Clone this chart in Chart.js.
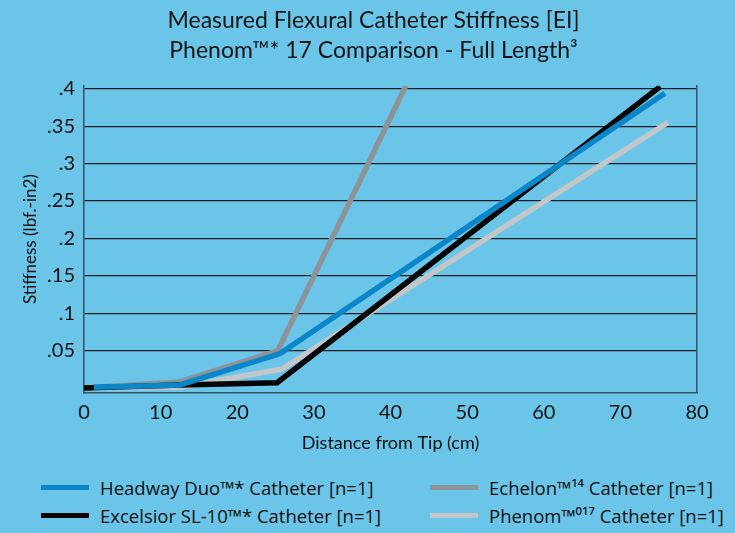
<!DOCTYPE html>
<html>
<head>
<meta charset="utf-8">
<script src="https://cdn.jsdelivr.net/npm/chart.js@4"></script>
<style>
  body { margin: 0; background: #6bc5e8; }
  #wrap { position: relative; width: 735px; height: 470px; }
  #legend { position: relative; width: 735px; height: 63px; font-family: "Liberation Sans Narrow", "Open Sans", sans-serif; font-size: 18.5px; color: #111; }
  .item { position: absolute; display: flex; align-items: center; white-space: nowrap; }
  .swatch { width: 48px; height: 5px; margin-right: 11px; }
</style>
</head>
<body>
<div id="wrap"><canvas id="myChart"></canvas></div>
<div id="legend"></div>
<script>
// Data
const seriesNames = [
    "Headway Duo™* Catheter [n=1]",
    "Echelon™¹⁴ Catheter [n=1]",
    "Excelsior SL-10™* Catheter [n=1]",
    "Phenom™⁰¹⁷ Catheter [n=1]"
];
const headwayDist = [1.3, 12.5, 25.6, 75.8];
const headwayEI   = [0.001, 0.004, 0.046, 0.394];
const echelonDist = [0, 12.5, 25.3, 42];
const echelonEI   = [0, 0.008, 0.050, 0.404];
const excelsiorDist = [0, 12.5, 25.2, 75.2];
const excelsiorEI   = [0, 0.004, 0.007, 0.403];
const phenomDist = [0, 12.5, 25.8, 76.2];
const phenomEI   = [0, 0.001, 0.025, 0.355];
const xTickStep = 10;
const yTickStep = 0.05;

const colors = ['#0a86c9', '#8d9499', '#050505', '#c3c7c9'];

function points(xs, ys) {
    return xs.map((x, i) => ({ x: x, y: ys[i] }));
}

const dark = '#161e22';

let ctx = document.getElementById('myChart').getContext('2d');
let chart = new Chart(ctx, {
    type: 'line',
    data: {
        datasets: [
            { label: seriesNames[0], data: points(headwayDist, headwayEI), borderColor: colors[0], order: 1 },
            { label: seriesNames[1], data: points(echelonDist, echelonEI), borderColor: colors[1], order: 3 },
            { label: seriesNames[2], data: points(excelsiorDist, excelsiorEI), borderColor: colors[2], order: 2 },
            { label: seriesNames[3], data: points(phenomDist, phenomEI), borderColor: colors[3], order: 4 }
        ]
    },
    options: {
        responsive: true,
        maintainAspectRatio: false,
        animation: false,
        elements: {
            line: { borderWidth: 5.5, tension: 0, borderCapStyle: 'butt', borderJoinStyle: 'miter' },
            point: { radius: 0 }
        },
        layout: { padding: { left: 20, right: 8, top: 0, bottom: 12 } },
        plugins: {
            legend: { display: false },
            tooltip: { enabled: false },
            title: {
                display: true,
                text: ['Measured Flexural Catheter Stiffness [EI]', 'Phenom™* 17 Comparison - Full Length³'],
                color: '#151515',
                font: { family: 'Lato', size: 23, weight: 'normal', lineHeight: 1.3 },
                padding: { top: 6, bottom: 20 }
            }
        },
        scales: {
            x: {
                type: 'linear',
                min: 0, max: 80,
                ticks: { stepSize: xTickStep, color: '#111', font: { family: 'Lato', size: 20 }, padding: 0 },
                grid: { display: false },
                border: { display: true, color: '#2f5566', width: 1.5 },
                title: { display: true, text: 'Distance from Tip (cm)', color: '#111', font: { family: 'Lato', size: 18 }, padding: { top: 8, bottom: 4 } }
            },
            y: {
                type: 'linear',
                min: -0.006, max: 0.404,
                ticks: {
                    stepSize: yTickStep,
                    includeBounds: false,
                    color: '#111',
                    font: { family: 'Lato', size: 20 },
                    padding: 9,
                    callback: v => v <= 0 ? '' : String(+v.toFixed(2)).replace(/^0/, '')
                },
                grid: {
                    drawTicks: false,
                    color: c => (c.tick && c.tick.value > 0) ? dark : 'rgba(0,0,0,0)',
                    lineWidth: 1.2
                },
                border: { display: true, color: '#2f5566', width: 1.5 },
                title: { display: true, text: 'Stiffness (lbf.-in2)', color: '#111', font: { family: 'Lato', size: 17 }, padding: 0 },
                afterFit: s => { s.width = 64; }
            },
            yRight: {
                type: 'linear',
                position: 'right',
                min: -0.006, max: 0.404,
                ticks: { display: false },
                grid: { display: false },
                border: { display: true, color: '#2f5566', width: 1.5 },
                afterFit: s => { s.width = 30; }
            }
        }
    }
});

// Build the two-column legend from the chart datasets
const legendPos = [[41, 5], [430, 5], [41, 33], [430, 33]];
const legendOrder = [0, 1, 2, 3];
let legend = document.getElementById('legend');
legendOrder.forEach((di, k) => {
    let ds = chart.data.datasets[di];
    let item = document.createElement('div');
    item.className = 'item';
    item.style.left = legendPos[k][0] + 'px';
    item.style.top = legendPos[k][1] + 'px';
    item.innerHTML = `<span class="swatch" style="background:${ds.borderColor}"></span><span>${ds.label}</span>`;
    legend.appendChild(item);
});
</script>
</body>
</html>
